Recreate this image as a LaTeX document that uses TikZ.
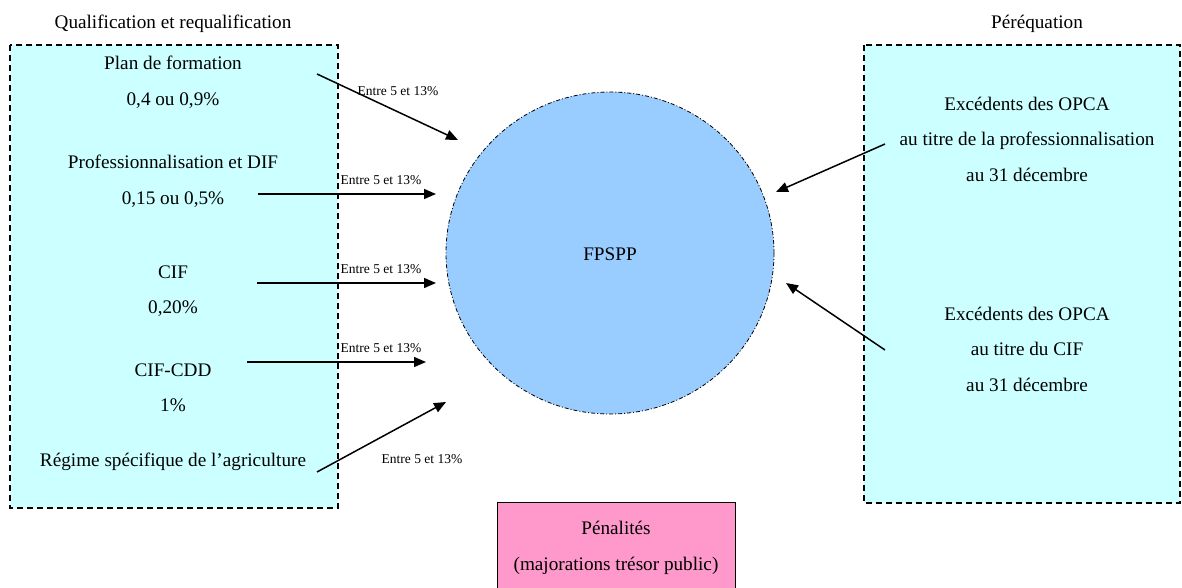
\documentclass[tikz,border=0pt]{standalone}
\usepackage{fontspec}
\setmainfont{Liberation Serif}
\usetikzlibrary{arrows.meta,shapes.geometric}
\definecolor{boxcyan}{HTML}{CCFFFF}
\definecolor{fundblue}{HTML}{99CCFF}
\definecolor{penpink}{HTML}{FF99CC}
\tikzset{
  txt/.style={align=center, inner sep=0pt, font=\fontsize{19.2}{35.5}\selectfont},
  lbl/.style={inner sep=0pt, font=\fontsize{13.5}{16}\selectfont},
  zone/.style={draw=black, fill=boxcyan, line width=1.3pt, dash pattern=on 6pt off 4pt},
  flow/.style={-{Triangle[length=12pt,width=10pt]}, line width=1.5pt},
}
\begin{document}
\begin{tikzpicture}[x=1pt,y=-1pt]
\useasboundingbox (0,0) rectangle (1182,588);

% contribution zones
\draw[zone] (10,45) rectangle (338,508);
\draw[zone] (864,45) rectangle (1180,503);
\node[txt] (tq) at (173,24) {Qualification et requalification};
\node[txt] (tp) at (1037,24) {Péréquation};

% the fund
\node[draw=black, fill=fundblue, shape=ellipse, minimum width=328pt, minimum height=322pt,
      line width=0.8pt, dash pattern=on 4pt off 2pt on 1pt off 2pt, inner sep=0pt] (f) at (610,253) {};
\node[txt] (fl) at (610,254) {FPSPP};

% left sources
\node[txt] (plan) at (173,82) {Plan de formation\\0,4 ou 0,9\%};
\node[txt] (prof) at (173,181) {Professionnalisation et DIF\\0,15 ou 0,5\%};
\node[txt] (cif) at (173,291) {CIF\\0,20\%};
\node[txt] (cdd) at (173,388) {CIF-CDD\\1\%};
\node[txt] (agri) at (173,462) {Régime spécifique de l’agriculture};

% right sources
\node[txt] (exp) at (1027,139) {Excédents des OPCA\\au titre de la professionnalisation\\au 31 décembre};
\node[txt] (exc) at (1027,349) {Excédents des OPCA\\au titre du CIF\\au 31 décembre};

% penalties
\node[draw=black, fill=penpink, line width=0.8pt, minimum width=238pt, minimum height=92pt, inner sep=0pt] (pb) at (616,548) {};
\node[txt] (pen) at (616,548) {Pénalités\\(majorations trésor public)};

% arrow end points
\coordinate (a1s) at (317,74);  \coordinate (a1e) at (458,140);
\coordinate (a2s) at (258,194); \coordinate (a2e) at (436,194);
\coordinate (a3s) at (257,283); \coordinate (a3e) at (436,283);
\coordinate (a4s) at (247,362); \coordinate (a4e) at (426,362);
\coordinate (a5s) at (317,472); \coordinate (a5e) at (446,402);
\coordinate (b1s) at (885,144); \coordinate (b1e) at (776,192);
\coordinate (b2s) at (885,350); \coordinate (b2e) at (786,283);

\draw[flow] (a1s) -- (a1e);
\draw[flow] (a2s) -- (a2e);
\draw[flow] (a3s) -- (a3e);
\draw[flow] (a4s) -- (a4e);
\draw[flow] (a5s) -- (a5e);
\draw[flow] (b1s) -- (b1e);
\draw[flow] (b2s) -- (b2e);

% rate labels
\node[lbl] (l1) at (398,91) {Entre 5 et 13\%};
\node[lbl] (l2) at (381,180) {Entre 5 et 13\%};
\node[lbl] (l3) at (381,269) {Entre 5 et 13\%};
\node[lbl] (l4) at (381,348) {Entre 5 et 13\%};
\node[lbl] (l5) at (422,459) {Entre 5 et 13\%};
\end{tikzpicture}
\end{document}
